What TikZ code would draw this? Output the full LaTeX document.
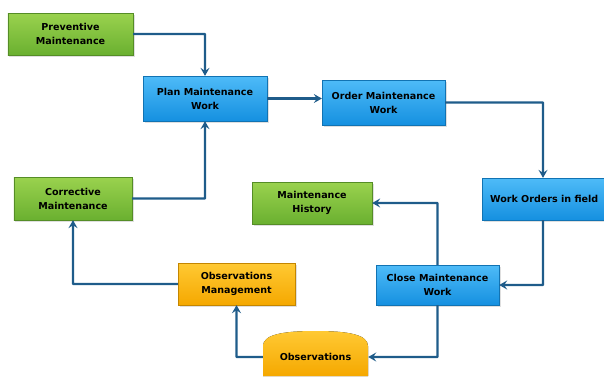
\documentclass[tikz,border=0pt]{standalone}
\usepackage{fontspec}
\setmainfont{DejaVu Sans}
\usetikzlibrary{arrows.meta,shadows}
\definecolor{lineblue}{HTML}{1F5C8A}
\definecolor{gtop}{HTML}{9AD24E}
\definecolor{gbot}{HTML}{6AB030}
\definecolor{btop}{HTML}{4EBBF8}
\definecolor{bbot}{HTML}{1590E0}
\definecolor{otop}{HTML}{FFC933}
\definecolor{obot}{HTML}{F5A800}
\tikzset{
  label text/.style={rectangle, inner sep=0pt, align=center, font=\bfseries\fontsize{9.6}{14}\selectfont},
  box/.style={label text, drop shadow={shadow xshift=1.5bp, shadow yshift=-1.5bp, opacity=0.25}},
  gbox/.style={box, top color=gtop, bottom color=gbot, draw=gbot!80!black, line width=0.3bp},
  bbox/.style={box, top color=btop, bottom color=bbot, draw=bbot!80!black, line width=0.3bp},
  obox/.style={box, top color=otop, bottom color=obot, draw=obot!80!black, line width=0.3bp},
  conn/.style={draw=lineblue, line width=2.4bp, -{Stealth[length=8bp,width=9bp,inset=3bp]}, rounded corners=0.5bp},
}
\begin{document}
\begin{tikzpicture}[x=1bp,y=-1bp]
\useasboundingbox (0,0) rectangle (604,376);
\node[gbox, minimum width=125bp, minimum height=42bp] (prev) at (70.5,34) {Preventive\\Maintenance};
\node[bbox, minimum width=124bp, minimum height=45bp] (plan) at (205,98.5) {Plan Maintenance\\Work};
\node[bbox, minimum width=123bp, minimum height=45bp] (order) at (383.5,102.5) {Order Maintenance\\Work};
\node[bbox, minimum width=124bp, minimum height=42bp, anchor=west] (field) at (482,199) {Work Orders in field};
\node[gbox, minimum width=118bp, minimum height=43bp] (corr) at (73,198.5) {Corrective\\Maintenance};
\node[gbox, minimum width=120bp, minimum height=42bp] (hist) at (312,203) {Maintenance\\History};
\node[bbox, minimum width=123bp, minimum height=40bp] (close) at (437.5,285) {Close Maintenance\\Work};
\node[obox, minimum width=117bp, minimum height=42bp] (omgmt) at (236.5,284) {Observations\\Management};
% Observations (rounded top, cut off at bottom)
\fill[top color=otop, bottom color=obot]
  (263,376) -- (263,346) .. controls (263,334) and (285,331) .. (315.5,331)
  .. controls (346,331) and (368,334) .. (368,346) -- (368,376) -- cycle;
\node[label text, minimum width=105bp, minimum height=40bp] (obs) at (315.5,357) {Observations};
% connectors
\draw[conn] (prev.east) -| (plan.north);
\draw[conn] (plan.east) -- (order.west |- plan.east);
\draw[conn] (order.east) -| (field.north -| 543,0);
\draw[conn] (field.south -| 543,0) |- (close.east);
\draw[conn] (close.north) |- (hist.east);
\draw[conn] (close.south) |- (obs.east);
\draw[conn] (obs.west) -| (omgmt.south);
\draw[conn] (omgmt.west) -| (corr.south);
\draw[conn] (corr.east) -| (plan.south);
\end{tikzpicture}
\end{document}
